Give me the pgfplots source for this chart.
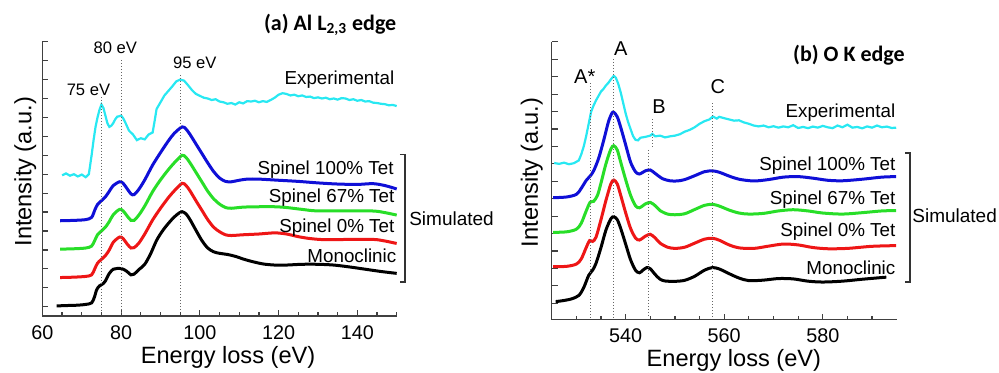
\documentclass[border=0pt]{standalone}
\usepackage{pgfplots}
\pgfplotsset{compat=1.18}
\usepackage{fontspec}
\setmainfont{Liberation Sans}
\newfontfamily\carlito{Carlito}
\definecolor{cexp}{RGB}{40,232,242}
\definecolor{cblue}{RGB}{15,15,215}
\definecolor{cgreen}{RGB}{40,222,40}
\definecolor{cred}{RGB}{238,22,22}
\newcommand\fs[1]{\fontsize{#1}{#1}\selectfont}
\pgfplotsset{
  myax/.style={scale only axis, axis x line*=bottom, axis y line*=left, clip=false,
    axis line style={line width=0.7pt, color=black!75},
    every tick/.style={line width=0.6pt, color=black!75},
    tick align=inside, major tick length=3pt, minor tick length=1.8pt,
    yticklabels={}, /pgf/number format/assume math mode=true,
    ticklabel style={font=\fs{9.9}},
    xticklabel style={anchor=center, yshift=-8.3pt},
  },
  sim/.style={line width=1.5pt, smooth, tension=0.5},
  ex/.style={line width=1.1pt, color=cexp},
}
\tikzset{
  dl/.style={densely dotted, line width=0.5pt, color=black!60},
  cl/.style={anchor=east, inner sep=0pt, font=\fs{9.4}},
}
\begin{document}
\begin{tikzpicture}
\useasboundingbox (0,0) rectangle (499.5pt,-186.5pt);
% ---------------- (a) Al L2,3 edge
\begin{axis}[myax, at={(21.2pt,-158pt)}, anchor=south west,
  width=177.15pt, height=137.15pt,
  xmin=60, xmax=150, ymin=-0.246, ymax=7,
  xtick={60,80,100,120,140},
  minor xtick={65,70,75,85,90,95,105,110,115,125,130,135,145,150},
  ytick={0,0.5,...,7}]
\addplot[sim, black] coordinates {(63.6,0.02)(66,0.03)(69,0.04)(71,0.06)(72.5,0.1)(73.2,0.25)(73.8,0.45)(74.5,0.55)(75.3,0.6)(76,0.68)(77,0.88)(78,0.99)(79,1.01)(80.3,1.0)(81.5,0.93)(82.5,0.84)(83.3,0.86)(84.5,0.98)(86,1.12)(87.5,1.4)(89,1.75)(90.5,2.0)(92,2.2)(93.5,2.37)(94.8,2.48)(95.5,2.51)(96.5,2.45)(97.5,2.3)(99,2.02)(100.5,1.75)(102,1.55)(103.5,1.45)(105,1.41)(107,1.38)(109,1.33)(111,1.26)(113,1.2)(116,1.13)(119,1.1)(122,1.1)(126,1.12)(130,1.12)(134,1.1)(138,1.05)(142,0.99)(146,0.93)(150,0.88)};
\addplot[sim, cred] coordinates {(64.5,0.77)(68,0.78)(71,0.8)(72.5,0.84)(73.3,1.0)(74,1.15)(75,1.25)(76,1.35)(77,1.5)(78,1.7)(79.6,1.84)(80.5,1.8)(81.5,1.66)(82.5,1.55)(83.3,1.56)(84.5,1.68)(86,1.92)(88,2.29)(90,2.6)(92,2.88)(93.5,3.06)(95.5,3.26)(96.5,3.2)(97.5,3.06)(99,2.8)(100.5,2.55)(102,2.3)(103.5,2.1)(105,1.98)(106.5,1.9)(108,1.88)(111,1.9)(115,1.92)(119,1.95)(122,1.92)(125,1.85)(128,1.8)(132,1.77)(140,1.78)(145,1.77)(150,1.67)};
\addplot[sim, cgreen] coordinates {(64.5,1.52)(68,1.53)(71,1.55)(72.5,1.6)(73.3,1.75)(74,1.9)(75,2.0)(76,2.1)(77,2.25)(78,2.43)(79.6,2.57)(80.5,2.53)(81.5,2.4)(82.5,2.28)(83.3,2.28)(84.5,2.42)(86,2.66)(88,3.04)(90,3.35)(92,3.62)(93.5,3.8)(95.5,4.0)(96.5,3.94)(97.5,3.8)(99,3.55)(100.5,3.3)(102,3.05)(103.5,2.85)(105,2.71)(106.5,2.62)(108,2.6)(111,2.63)(115,2.64)(119,2.64)(122,2.62)(126,2.57)(130,2.53)(140,2.53)(145,2.52)(150,2.42)};
\addplot[sim, cblue] coordinates {(64.5,2.27)(68,2.28)(71,2.3)(72.5,2.36)(73.3,2.55)(74,2.7)(75,2.8)(76,2.9)(77,3.05)(78,3.2)(79.6,3.3)(80.5,3.26)(81.5,3.12)(82.5,2.98)(83.3,2.96)(84.5,3.1)(86,3.35)(88,3.74)(90,4.07)(92,4.38)(93.5,4.58)(95.5,4.75)(96.5,4.69)(97.5,4.55)(99,4.3)(100.5,4.05)(102,3.8)(103.5,3.57)(105,3.4)(106.5,3.31)(108,3.3)(110,3.34)(112,3.37)(115,3.37)(120,3.34)(125,3.31)(130,3.27)(135,3.24)(140,3.23)(144,3.25)(147,3.2)(150,3.11)};
\addplot[ex] coordinates {(65,3.47)(66,3.52)(67,3.46)(68,3.5)(69,3.44)(70,3.49)(71,3.42)(71.8,3.5)(72.5,4.0)(73,4.4)(73.5,4.75)(74,5.0)(74.5,5.2)(75,5.34)(75.5,5.25)(76,5.05)(76.5,4.85)(77,4.75)(77.5,4.78)(78,4.85)(78.5,4.95)(79,5.02)(79.5,5.03)(80,5.05)(80.5,4.98)(81,4.88)(82,4.65)(83,4.55)(84,4.4)(85,4.45)(86,4.42)(87,4.55)(88,4.6)(88.5,4.9)(89,5.22)(90,5.4)(91,5.58)(92,5.7)(93,5.82)(94,5.95)(95,6.0)(96,5.97)(97,5.85)(98,5.72)(99,5.62)(100,5.57)(101,5.52)(102,5.5)(103,5.46)(104,5.48)(105,5.42)(106,5.4)(107,5.36)(108,5.38)(109,5.34)(110,5.4)(111,5.37)(112,5.43)(113,5.42)(114,5.44)(115,5.4)(116,5.43)(117,5.41)(118,5.46)(119,5.52)(120,5.6)(121,5.64)(122,5.62)(123,5.58)(124,5.6)(125,5.56)(126,5.58)(127,5.54)(128,5.55)(129,5.51)(130,5.53)(131,5.5)(132,5.52)(133,5.48)(134,5.5)(135,5.47)(136,5.51)(137,5.5)(138,5.46)(139,5.48)(140,5.44)(141,5.46)(142,5.42)(143,5.43)(144,5.39)(145,5.38)(146,5.36)(147,5.35)(148,5.32)(149,5.33)(150,5.3)};
\draw[dl] (axis cs:75,5.54) -- (axis cs:75,-0.14);
\draw[dl] (axis cs:80,6.52) -- (axis cs:80,-0.14);
\draw[dl] (axis cs:95,6.12) -- (axis cs:95,-0.14);
\node[font=\fs{8.3}] at (axis cs:71.7,5.72) {75 eV};
\node[font=\fs{8.3}] at (axis cs:78.5,6.83) {80 eV};
\node[font=\fs{8.3}] at (axis cs:98.7,6.44) {95 eV};
\node[cl] at (axis cs:149.5,5.99) {Experimental};
\node[cl] at (axis cs:149.3,3.61) {Spinel 100\% Tet};
\node[cl] at (axis cs:149.5,2.87) {Spinel 67\% Tet};
\node[cl] at (axis cs:149.5,2.08) {Spinel 0\% Tet};
\node[cl] at (axis cs:150,1.34) {Monoclinic};
\draw[line width=0.6pt, black!80] (axis cs:150.8,4.03) -- (axis cs:152.1,4.03) -- (axis cs:152.1,0.65) -- (axis cs:150.8,0.65);
\node[anchor=west, inner sep=0pt, font=\fs{9.5}] at (axis cs:153.1,2.32) {Simulated};
\node[anchor=east, inner sep=0pt, font=\carlito\bfseries\fs{11}] at (axis cs:150,7.44) {(a) Al L\textsubscript{2,3} edge};
\node[rotate=90, font=\fs{11.8}] at (axis description cs:-0.048,0.526) {Intensity (a.u.)};
\node[font=\fs{11.8}] at (axis description cs:0.524,-0.15) {Energy loss (eV)};
\end{axis}
% ---------------- (b) O K edge
\begin{axis}[myax, at={(275.85pt,-159.75pt)}, anchor=south west,
  width=172.5pt, height=138.8pt,
  xmin=525, xmax=595, ymin=-0.93, ymax=15,
  xtick={540,560,580},
  minor xtick={530,535,545,550,555,565,570,575,585,590},
  ytick={0,...,15}]
\addplot[sim, black] coordinates {(525.8,0.1)(527,0.14)(529,0.25)(530.5,0.45)(531.5,0.9)(532.5,1.6)(533.3,1.9)(534,2.3)(535,3.2)(536,4.2)(537,4.85)(537.6,4.97)(538.3,4.8)(539,4.3)(540,3.4)(541,2.5)(542,1.9)(542.8,1.75)(543.5,1.9)(544.3,2.05)(545,1.98)(546,1.65)(547,1.38)(548,1.28)(550,1.26)(552,1.32)(554,1.55)(556,1.9)(557.6,2.05)(559,1.97)(561,1.7)(563,1.45)(565,1.3)(568,1.33)(571,1.42)(574,1.4)(577,1.27)(580,1.22)(584,1.27)(588,1.38)(592.9,1.5)};
\addplot[sim, cred] coordinates {(525.3,2.1)(528,2.12)(530,2.25)(531,2.55)(532,3.2)(532.7,3.6)(533.3,3.55)(534,3.8)(535,4.8)(536,5.9)(537,6.85)(537.6,7.07)(538.3,6.85)(539,6.2)(540,5.2)(541,4.3)(542,3.75)(542.8,3.63)(544,3.85)(545,3.96)(546,3.75)(547,3.45)(548.5,3.22)(550,3.15)(552,3.22)(554,3.45)(556,3.68)(557.6,3.73)(559,3.62)(561,3.35)(563,3.18)(566,3.15)(569,3.28)(572,3.4)(575,3.35)(578,3.2)(581,3.13)(585,3.15)(590,3.27)(594.9,3.31)};
\addplot[sim, cgreen] coordinates {(525.3,4.07)(528,4.1)(530,4.25)(531,4.6)(532,5.3)(532.8,5.8)(533.5,5.85)(534.3,6.2)(535,6.9)(536,8.0)(537,8.85)(537.6,9.04)(538.3,8.8)(539,8.1)(540,7.1)(541,6.2)(542,5.6)(542.8,5.48)(544,5.7)(545,5.79)(546,5.6)(547,5.32)(548.5,5.12)(550,5.08)(552,5.14)(554,5.38)(556,5.62)(557.6,5.68)(559,5.58)(561,5.35)(563,5.18)(565,5.12)(568,5.16)(571,5.3)(574,5.37)(577,5.3)(580,5.18)(584,5.12)(588,5.2)(592,5.3)(594.9,5.32)};
\addplot[sim, cblue] coordinates {(525.3,6.06)(528,6.1)(530,6.25)(531,6.6)(532,7.05)(532.8,7.3)(533.5,7.6)(534.5,8.3)(535.5,9.3)(536.5,10.4)(537.2,10.9)(537.6,10.96)(538.3,10.7)(539,10.1)(540,9.1)(541,8.1)(542,7.55)(542.8,7.42)(544,7.6)(545,7.65)(546,7.45)(547.5,7.15)(549,7.03)(550.5,7.02)(552,7.1)(554,7.32)(556,7.55)(557.6,7.6)(559,7.52)(561,7.3)(563,7.12)(566,7.02)(569,7.1)(572,7.24)(575,7.27)(578,7.18)(581,7.06)(584,7.03)(588,7.12)(592,7.24)(594.9,7.27)};
\addplot[ex] coordinates {(525.5,8.05)(526.5,8.0)(527.5,8.07)(528.5,7.98)(529.5,8.04)(530.5,8.2)(531,8.55)(531.5,9.0)(532,9.6)(532.5,10.3)(533,11.0)(533.5,11.35)(534,11.65)(534.5,11.9)(535,12.15)(535.5,12.3)(536,12.5)(536.5,12.65)(537,12.85)(537.6,13.05)(538,12.95)(538.5,12.6)(539,12.1)(539.5,11.5)(540,10.9)(540.5,10.4)(541,10.0)(541.5,9.6)(542,9.38)(542.5,9.35)(543,9.5)(544,9.55)(545,9.62)(545.4,9.72)(546,9.58)(547,9.62)(548,9.52)(549,9.58)(550,9.62)(551,9.7)(552,9.85)(553,9.95)(554,10.1)(555,10.3)(556,10.45)(557,10.55)(557.7,10.72)(558.5,10.6)(559,10.7)(560,10.62)(561,10.55)(562,10.48)(563,10.5)(564,10.38)(565,10.3)(566,10.2)(567,10.15)(568,10.2)(569,10.1)(570,10.16)(571,10.08)(572,10.15)(573,10.1)(574,10.22)(575,10.06)(576,10.12)(577,10.05)(578,10.14)(579,10.08)(580,10.18)(581,10.1)(582,10.05)(583,10.2)(584,10.1)(585,10.25)(586,10.08)(587,10.12)(588,10.04)(589,10.15)(590,10.08)(591,10.2)(592,10.1)(593,10.14)(594,10.06)(594.9,10.08)};
\draw[dl] (axis cs:532.9,12.64) -- (axis cs:532.9,-0.84);
\draw[dl] (axis cs:537.6,14.02) -- (axis cs:537.6,-0.84);
\draw[dl] (axis cs:545.4,10.57) -- (axis cs:545.4,8.97);
\draw[dl] (axis cs:544.6,8.8) -- (axis cs:544.6,-0.84);
\draw[dl] (axis cs:557.6,11.49) -- (axis cs:557.6,-0.84);
\node[font=\fs{10}] at (axis cs:531.7,12.98) {A*};
\node[font=\fs{10}] at (axis cs:539.0,14.59) {A};
\node[font=\fs{10}] at (axis cs:546.8,11.26) {B};
\node[font=\fs{10}] at (axis cs:558.7,12.41) {C};
\node[cl] at (axis cs:594.8,10.92) {Experimental};
\node[cl] at (axis cs:594.8,7.88) {Spinel 100\% Tet};
\node[cl] at (axis cs:594.8,5.93) {Spinel 67\% Tet};
\node[cl] at (axis cs:594.8,4.09) {Spinel 0\% Tet};
\node[cl] at (axis cs:594.8,2.03) {Monoclinic};
\draw[line width=0.6pt, black!80] (axis cs:596.7,8.62) -- (axis cs:597.7,8.62) -- (axis cs:597.7,1.22) -- (axis cs:596.7,1.22);
\node[anchor=west, inner sep=0pt, font=\fs{9.5}] at (axis cs:598.1,5.01) {Simulated};
\node[anchor=east, inner sep=0pt, font=\carlito\bfseries\fs{11}] at (axis cs:596.7,14.24) {(b) O K edge};
\node[rotate=90, font=\fs{11.8}] at (axis description cs:-0.058,0.53) {Intensity (a.u.)};
\node[font=\fs{11.8}] at (axis description cs:0.528,-0.146) {Energy loss (eV)};
\end{axis}
\end{tikzpicture}
\end{document}
